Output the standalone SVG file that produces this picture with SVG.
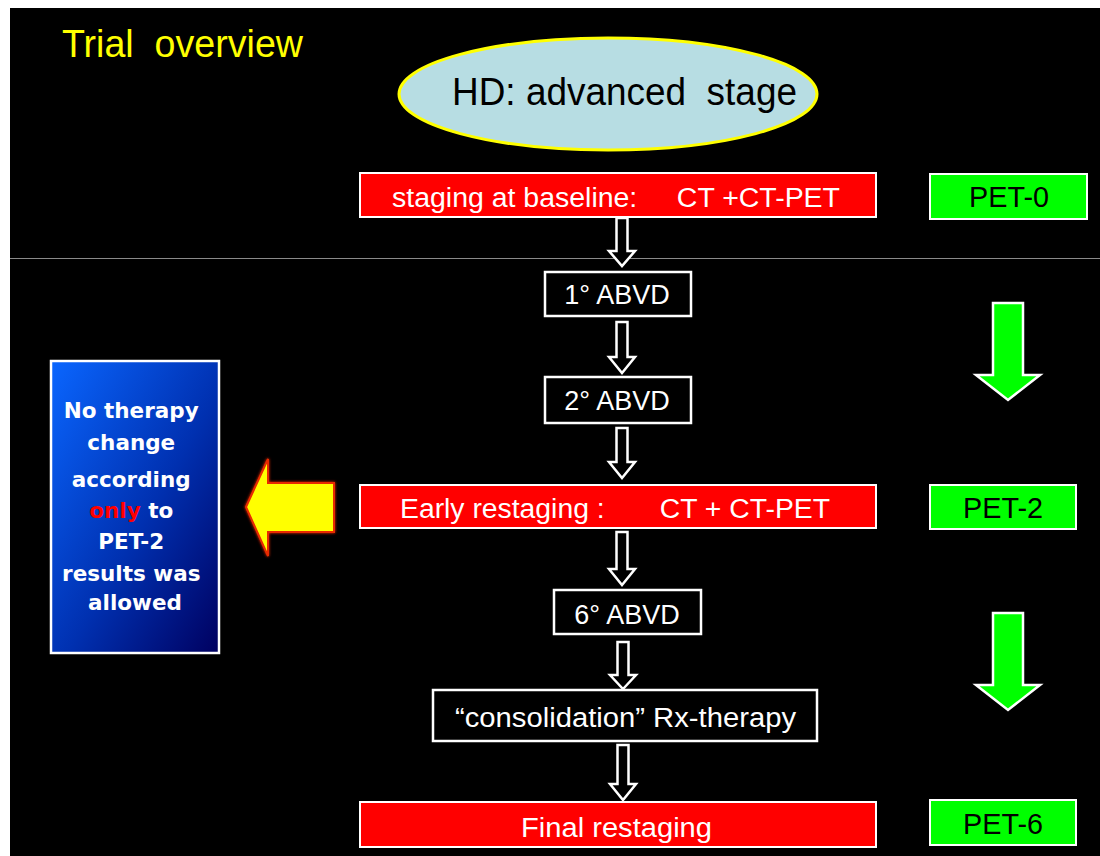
<svg xmlns="http://www.w3.org/2000/svg" width="1100" height="856" viewBox="0 0 1100 856">
<defs>
<linearGradient id="blueGrad" x1="0" y1="0" x2="1" y2="1">
<stop offset="0" stop-color="#0a66ff"/>
<stop offset="0.55" stop-color="#0030b0"/>
<stop offset="1" stop-color="#000060"/>
</linearGradient>
<filter id="glow" x="-20%" y="-20%" width="140%" height="140%">
<feGaussianBlur in="SourceAlpha" stdDeviation="1.5" result="b"/>
<feFlood flood-color="#ff2a00"/>
<feComposite in2="b" operator="in" result="g"/>
<feMerge><feMergeNode in="g"/><feMergeNode in="SourceGraphic"/></feMerge>
</filter>
</defs>
<style>
.sans{font-family:"Liberation Sans",Arial,sans-serif}
.red{fill:#ff0000;stroke:#ffffff;stroke-width:2}
.grn{fill:#00ff00;stroke:#ffffff;stroke-width:2}
.blk{fill:#000000;stroke:#ffffff;stroke-width:2.5}
.wt{fill:#ffffff;font-size:27px}
.pet{fill:#000000;font-size:29px}
.hollow{fill:#000000;stroke:#ffffff;stroke-width:2.5;stroke-linejoin:miter}
.garrow{fill:#00ff00;stroke:#ffffff;stroke-width:2.5}
.note{font-family:"DejaVu Sans",Verdana,sans-serif;font-weight:bold;font-size:21.5px;fill:#ffffff}
</style>
<rect x="0" y="0" width="1100" height="856" fill="#ffffff"/>
<rect x="10" y="8" width="1090" height="848" fill="#000000"/>
<line x1="10" y1="258.5" x2="1100" y2="258.5" stroke="#8a8a8a" stroke-width="1"/>

<g id="title"><text class="sans" x="62" y="57" font-size="38" fill="#ffff00" xml:space="preserve" textLength="241" lengthAdjust="spacingAndGlyphs">Trial  overview</text></g>

<g id="hd">
<ellipse cx="608" cy="94" rx="209" ry="56" fill="#b7dde3" stroke="#ffff00" stroke-width="3"/>
<text class="sans" x="452" y="105" font-size="38" fill="#000000" xml:space="preserve" textLength="345" lengthAdjust="spacingAndGlyphs">HD: advanced  stage</text>
</g>

<g id="staging">
<rect class="red" x="360" y="173" width="516" height="44"/>
<text class="sans wt" x="392" y="207" textLength="448" lengthAdjust="spacingAndGlyphs" xml:space="preserve">staging at baseline:     CT +CT-PET</text>
</g>
<g id="pet0">
<rect class="grn" x="930" y="174" width="157" height="45"/>
<text class="sans pet" x="1009" y="207" text-anchor="middle" textLength="80" lengthAdjust="spacingAndGlyphs">PET-0</text>
</g>

<g id="abvd1">
<rect class="blk" x="545" y="272" width="146" height="44"/>
<text class="sans wt" x="617" y="304" text-anchor="middle" font-size="26">1° ABVD</text>
</g>
<g id="abvd2">
<rect class="blk" x="545" y="377" width="146" height="46"/>
<text class="sans wt" x="617" y="410" text-anchor="middle" font-size="26">2° ABVD</text>
</g>

<g id="early">
<rect class="red" x="360" y="485" width="516" height="43"/>
<text class="sans wt" x="400" y="518" textLength="430" lengthAdjust="spacingAndGlyphs" xml:space="preserve">Early restaging :       CT + CT-PET</text>
</g>
<g id="pet2">
<rect class="grn" x="930" y="485" width="146" height="44"/>
<text class="sans pet" x="1003" y="518" text-anchor="middle" textLength="80" lengthAdjust="spacingAndGlyphs">PET-2</text>
</g>

<g id="abvd6">
<rect class="blk" x="554" y="590" width="147" height="44"/>
<text class="sans wt" x="627" y="624" text-anchor="middle" font-size="26">6° ABVD</text>
</g>

<g id="consolidation">
<rect class="blk" x="433" y="690" width="384" height="51"/>
<text class="sans wt" x="455" y="727" textLength="341" lengthAdjust="spacingAndGlyphs">“consolidation” Rx-therapy</text>
</g>

<g id="final">
<rect class="red" x="360" y="802" width="516" height="45"/>
<text class="sans wt" x="521" y="837" textLength="191" lengthAdjust="spacingAndGlyphs">Final restaging</text>
</g>
<g id="pet6">
<rect class="grn" x="930" y="800" width="146" height="45"/>
<text class="sans pet" x="1003" y="834" text-anchor="middle" textLength="80" lengthAdjust="spacingAndGlyphs">PET-6</text>
</g>

<g id="note">
<rect x="51" y="361" width="168" height="292" fill="url(#blueGrad)" stroke="#ffffff" stroke-width="2.5"/>
<text class="note" text-anchor="middle">
<tspan x="135" y="418">No therapy</tspan>
<tspan x="135" y="450">change</tspan>
<tspan x="135" y="487">according</tspan>
<tspan x="135" y="518"><tspan fill="#ff0000">only</tspan> to</tspan>
<tspan x="135" y="549">PET-2</tspan>
<tspan x="135" y="581">results was</tspan>
<tspan x="135" y="610">allowed</tspan>
</text>
</g>

<g id="connectors">
<path class="hollow" d="M616.5 218 H627.5 V251 H635 L622 266 L609 251 H616.5 Z"/>
<path class="hollow" d="M616.5 322 H627.5 V357 H635 L622 373 L609 357 H616.5 Z"/>
<path class="hollow" d="M616.5 428 H627.5 V462 H635 L622 478 L609 462 H616.5 Z"/>
<path class="hollow" d="M616.5 532 H627.5 V569 H635 L622 585 L609 569 H616.5 Z"/>
<path class="hollow" d="M617.5 642 H628.5 V675 H636 L623 689 L610 675 H617.5 Z"/>
<path class="hollow" d="M617.5 745 H628.5 V784 H636 L623 800 L610 784 H617.5 Z"/>
<path class="garrow" d="M993 303 H1023 V375 H1040 L1008 400 L976 375 H993 Z"/>
<path class="garrow" d="M993 613 H1023 V685 H1040 L1008 710 L976 685 H993 Z"/>
<path d="M246 507 L268 459 V483 H334 V532 H268 V556 Z" fill="#ffff00" stroke="#e82a00" stroke-width="2" filter="url(#glow)"/>
</g>
</svg>
